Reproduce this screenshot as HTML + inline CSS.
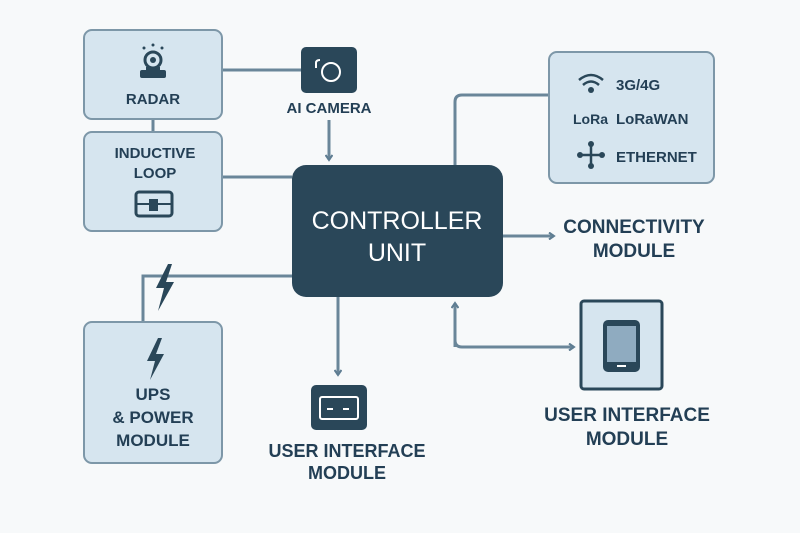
<!DOCTYPE html>
<html><head><style>body{margin:0;background:#f7f9fa}svg{display:block}text{font-family:"Liberation Sans",sans-serif;font-weight:bold;fill:#233f55}</style></head><body>
<svg width="800" height="533" viewBox="0 0 800 533">
<defs><marker id="a" markerWidth="8" markerHeight="8" refX="6" refY="4" orient="auto" markerUnits="userSpaceOnUse"><path d="M1,0.5 L6,4 L1,7.5" fill="none" stroke="#5e7d92" stroke-width="2"/></marker></defs>
<g stroke="#6a8699" stroke-width="3" fill="none">
<line x1="222" y1="70" x2="301" y2="70"/>
<line x1="153" y1="119" x2="153" y2="132"/>
<line x1="222" y1="177" x2="292" y2="177"/>
<line x1="329" y1="120" x2="329" y2="160" marker-end="url(#a)"/>
<path d="M549,95 H462 Q455,95 455,102 V165"/>
<line x1="503" y1="236" x2="554" y2="236" marker-end="url(#a)"/>
<path d="M143,322 V276 H292"/>
<line x1="338" y1="297" x2="338" y2="375" marker-end="url(#a)"/>
<path d="M455,303 V340 Q455,347 462,347 H574" marker-end="url(#a)"/>
<line x1="455" y1="347" x2="455" y2="303" marker-end="url(#a)"/>
</g>
<g fill="#d6e5ef" stroke="#7d97a8" stroke-width="2">
<rect x="84" y="30" width="138" height="89" rx="8"/>
<rect x="84" y="132" width="138" height="99" rx="8"/>
<rect x="549" y="52" width="165" height="131" rx="8"/>
<rect x="84" y="322" width="138" height="141" rx="8"/>
</g>
<rect x="292" y="165" width="211" height="132" rx="14" fill="#2a4759"/>
<text x="397" y="229" font-size="25" text-anchor="middle" style="fill:#fff;font-weight:normal">CONTROLLER</text>
<text x="397" y="261" font-size="25" text-anchor="middle" style="fill:#fff;font-weight:normal">UNIT</text>
<!-- radar icon -->
<g fill="#2a4759"><circle cx="153" cy="60" r="8" fill="none" stroke="#2a4759" stroke-width="3"/><circle cx="153" cy="60" r="3"/><rect x="140" y="70" width="26" height="8" rx="2"/><rect x="146" y="67" width="14" height="5"/>
<circle cx="153" cy="45" r="1.5"/><circle cx="144" cy="48" r="1.5"/><circle cx="162" cy="48" r="1.5"/></g>
<text x="153" y="104" font-size="15" text-anchor="middle">RADAR</text>
<text x="155" y="158" font-size="15" text-anchor="middle">INDUCTIVE</text>
<text x="155" y="178" font-size="15" text-anchor="middle">LOOP</text>
<rect x="136" y="192" width="36" height="24" rx="3" fill="none" stroke="#2a4759" stroke-width="3"/><rect x="149" y="199" width="9" height="12" fill="#2a4759"/><line x1="136" y1="204" x2="172" y2="204" stroke="#2a4759" stroke-width="2"/>
<rect x="301" y="47" width="56" height="46" rx="5" fill="#2a4759"/><circle cx="331" cy="72" r="9" fill="none" stroke="#fff" stroke-width="2"/><path d="M316,68 V63 Q316,60 320,60" fill="none" stroke="#fff" stroke-width="2"/>
<text x="329" y="113" font-size="15" text-anchor="middle">AI CAMERA</text>
<!-- connectivity -->
<g fill="none" stroke="#2a4759" stroke-width="2.5"><path d="M579,80 Q591,70 603,80"/><path d="M583,85 Q591,78 599,85"/></g><circle cx="591" cy="90" r="3" fill="#2a4759"/>
<text x="616" y="90" font-size="15">3G/4G</text>
<text x="573" y="124" font-size="14">LoRa</text><text x="616" y="124" font-size="15">LoRaWAN</text>
<g stroke="#2a4759" stroke-width="2.5"><line x1="580" y1="155" x2="602" y2="155"/><line x1="591" y1="144" x2="591" y2="166"/></g><g fill="#2a4759"><circle cx="580" cy="155" r="3"/><circle cx="602" cy="155" r="3"/><circle cx="591" cy="144" r="3"/><circle cx="591" cy="166" r="3"/></g>
<text x="616" y="162" font-size="15">ETHERNET</text>
<text x="634" y="233" font-size="19" text-anchor="middle">CONNECTIVITY</text>
<text x="634" y="257" font-size="19" text-anchor="middle">MODULE</text>
<!-- lightning -->
<path d="M168,264 L156,288 H164 L158,311 L174,282 H166 L172,264Z" fill="#2a4759"/>
<path d="M158,338 L147,361 H155 L150,380 L164,354 H156 L162,338Z" fill="#2a4759"/>
<text x="153" y="400" font-size="17" text-anchor="middle">UPS</text>
<text x="153" y="423" font-size="17" text-anchor="middle">&amp; POWER</text>
<text x="153" y="446" font-size="17" text-anchor="middle">MODULE</text>
<rect x="311" y="385" width="56" height="45" rx="5" fill="#2a4759"/><rect x="320" y="397" width="38" height="22" rx="2" fill="none" stroke="#fff" stroke-width="2"/><line x1="327" y1="409" x2="333" y2="409" stroke="#fff" stroke-width="2"/><line x1="343" y1="409" x2="349" y2="409" stroke="#fff" stroke-width="2"/>
<text x="347" y="457" font-size="18" text-anchor="middle">USER INTERFACE</text>
<text x="347" y="479" font-size="18" text-anchor="middle">MODULE</text>
<rect x="581" y="301" width="81" height="88" rx="3" fill="#d6e5ef" stroke="#2a4759" stroke-width="3"/>
<rect x="603" y="320" width="37" height="52" rx="5" fill="#2a4759"/><rect x="607" y="326" width="29" height="36" fill="#8fabc0"/><rect x="617" y="365" width="9" height="2" fill="#fff"/>
<text x="627" y="421" font-size="19" text-anchor="middle">USER INTERFACE</text>
<text x="627" y="445" font-size="19" text-anchor="middle">MODULE</text>
</svg></body></html>
